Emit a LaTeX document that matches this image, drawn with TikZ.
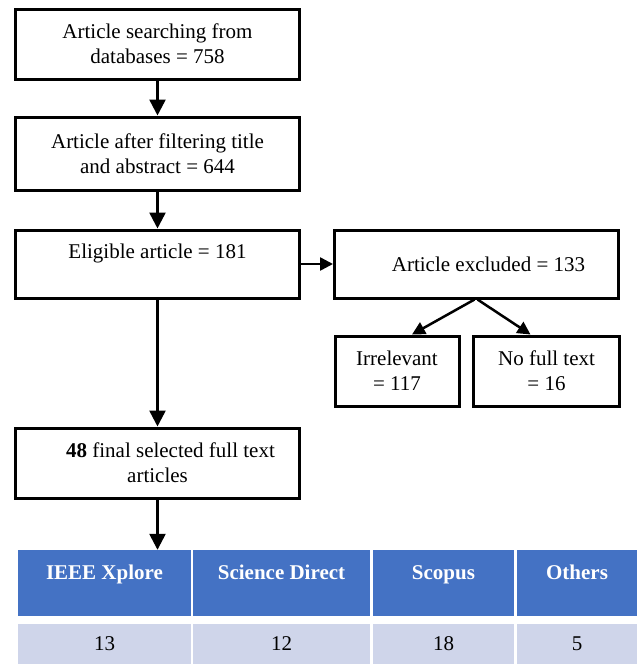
\documentclass[tikz,border=0pt]{standalone}
\usepackage{fontspec}
\setmainfont{Liberation Serif}
\usetikzlibrary{positioning,arrows.meta}
\definecolor{headblue}{HTML}{4472C4}
\definecolor{rowlilac}{HTML}{CFD5EA}

\begin{document}
\begin{tikzpicture}[
    x=1pt, y=1pt,
    font=\fontsize{21}{25}\selectfont,
    box/.style={rectangle, draw, line width=3pt,
                minimum width=284pt, minimum height=70pt,
                align=center, inner sep=0pt},
    head/.style={rectangle, fill=headblue, text=white,
                 font=\fontsize{21}{25}\selectfont\bfseries,
                 minimum height=66pt, inner sep=0pt,
                 text height=14pt, text depth=22pt},
    cell/.style={rectangle, fill=rowlilac, minimum height=40pt, inner sep=0pt},
    arr/.style={-{Triangle[length=16pt,width=16pt]}, line width=2.5pt},
    smallarr/.style={arr, -{Triangle[length=13pt,width=13pt]}}
]
\useasboundingbox (0,0) rectangle (642,-664);
\node[box] (search) at (157.5,-44) {Article searching from\\databases = 758};
\node[box, minimum height=73pt, below=35pt of search] (filter) {Article after filtering title\\and abstract = 644};
\node[box, minimum height=68pt, below=37pt of filter, text height=14pt, text depth=25pt] (elig) {Eligible article = 181};
\node[box, minimum height=68pt, right=32pt of elig] (excl) {\hspace*{24pt}Article excluded = 133};
\node[box, minimum width=124pt] (irr) at (397,-371) {Irrelevant\\= 117};
\node[box, minimum width=146pt] (nofull) at (546.5,-371) {No full text\\= 16};
\node[box, below=127pt of elig] (final) {\hspace*{26pt}\textbf{48} final selected full text\\articles};

% database table
\node[head, minimum width=173pt] (ieee) at (104.5,-583) {IEEE Xplore};
\node[head, minimum width=177pt] (sd) at (281.5,-583) {Science Direct};
\node[head, minimum width=141pt] (scopus) at (443.5,-583) {Scopus};
\node[head, minimum width=120pt] (others) at (577,-583) {Others};
\node[cell, minimum width=173pt] (ieeen) at (104.5,-644) {13};
\node[cell, minimum width=177pt] (sdn) at (281.5,-644) {12};
\node[cell, minimum width=141pt] (scopusn) at (443.5,-644) {18};
\node[cell, minimum width=120pt] (othersn) at (577,-644) {5};

\draw[arr] (search) -- (filter);
\draw[arr] (filter) -- (elig);
\draw[smallarr] (elig) -- (excl);
\draw[arr] (elig) -- (final);
\draw[smallarr] ([xshift=-2pt]excl.south) -- ([xshift=15pt]irr.north);
\draw[smallarr] ([xshift=1pt]excl.south) -- ([xshift=-16pt]nofull.north);
\draw[arr] (final.south) -- (final.south |- ieee.north);
\end{tikzpicture}
\end{document}
